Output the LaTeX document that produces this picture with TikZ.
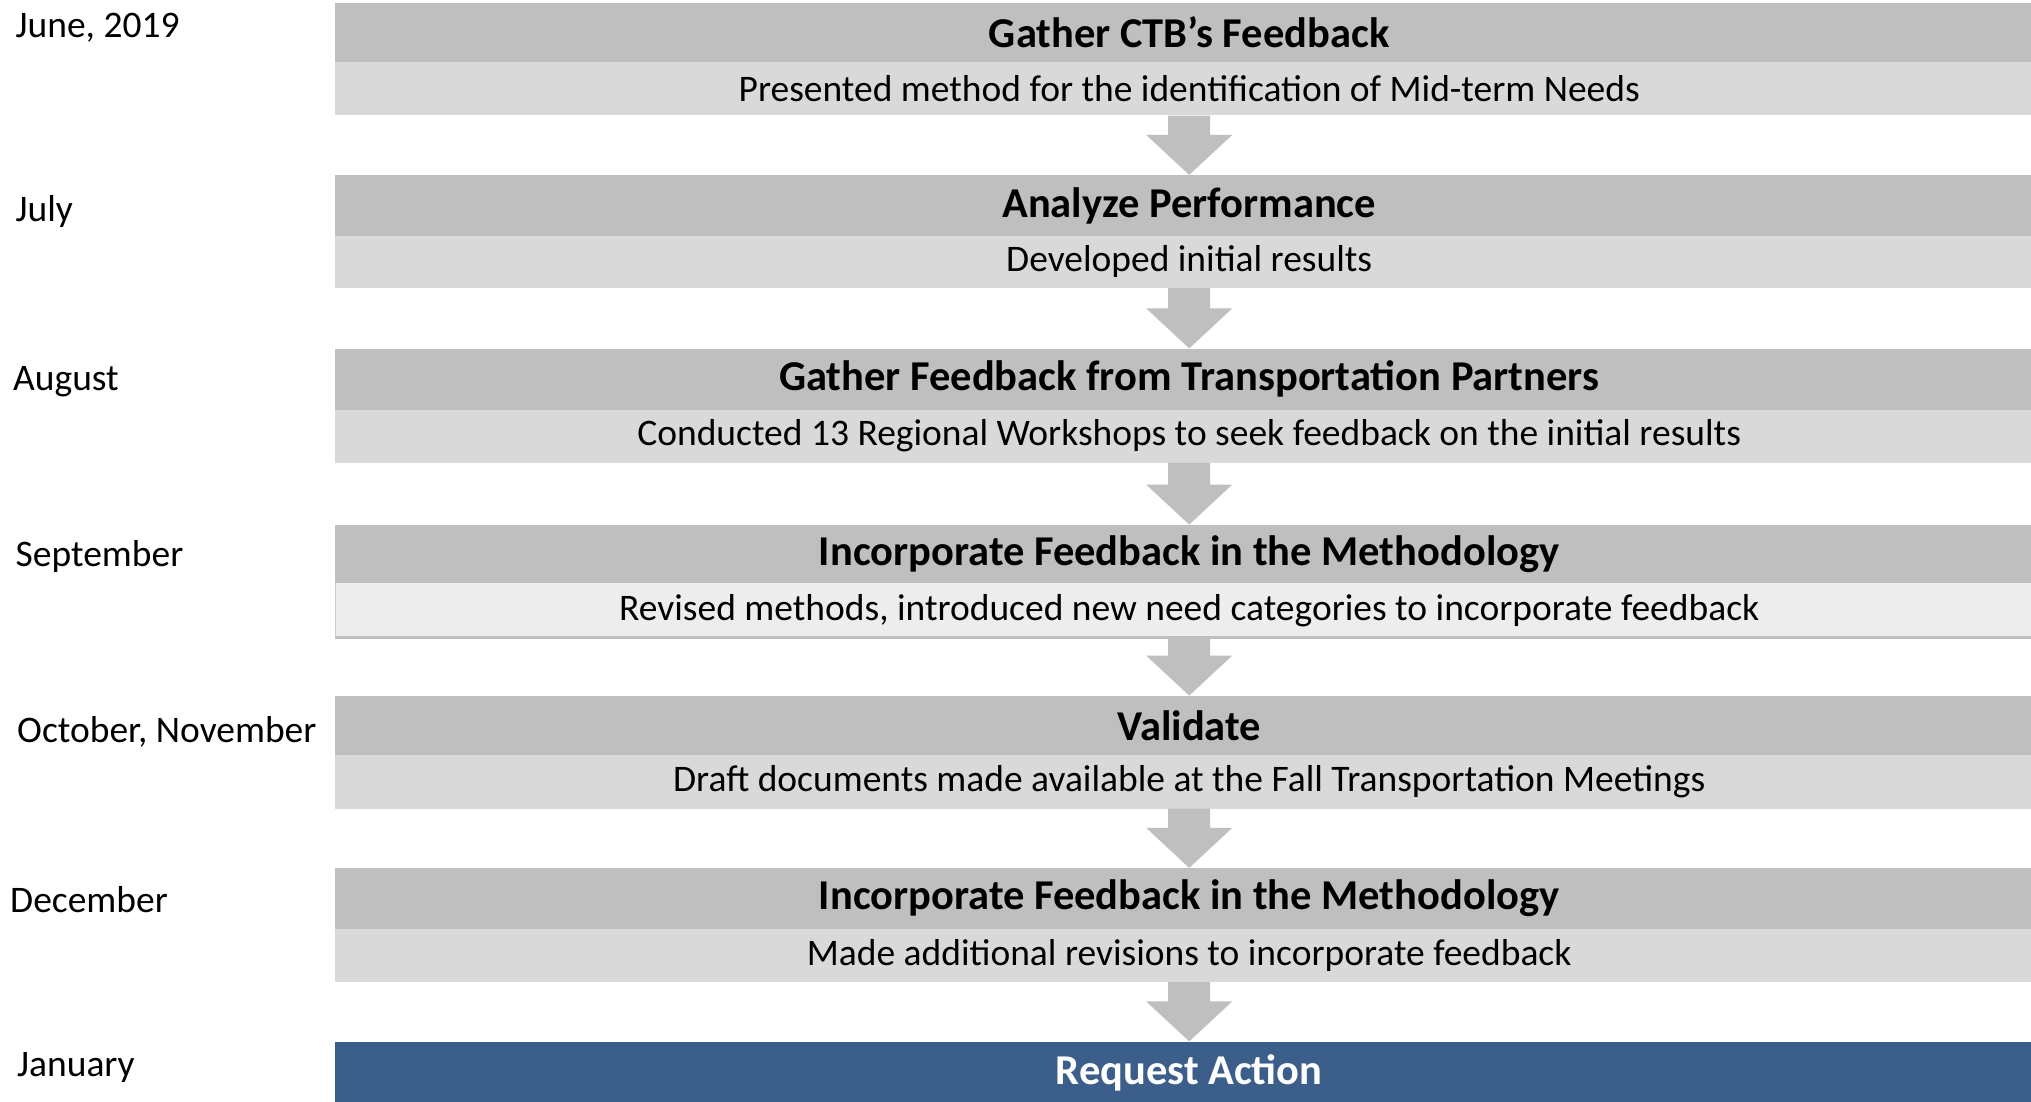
\documentclass[tikz,border=0pt]{standalone}
\usepackage{fontspec}
\setmainfont{Carlito}
\usetikzlibrary{calc,positioning}
\definecolor{hdrgray}{HTML}{BFBFBF}
\definecolor{subgray}{HTML}{D9D9D9}
\definecolor{sublight}{HTML}{EDEDED}
\definecolor{arrgray}{HTML}{BFBFBF}
\definecolor{actblue}{HTML}{3B5E8A}
\tikzset{
  hdr/.style={rectangle, fill=hdrgray, minimum width=1708pt, minimum height=59.6pt, inner sep=0pt,
     font=\fontsize{42.5}{50}\selectfont\bfseries, text=black, anchor=north west},
  sub/.style={rectangle, fill=subgray, minimum width=1708pt, minimum height=53pt, inner sep=0pt,
     font=\fontsize{37.5}{44}\selectfont, text=black, anchor=north west},
  act/.style={hdr, fill=actblue, text=white, minimum height=62pt},
  month/.style={anchor=west, inner sep=0pt, font=\fontsize{37.5}{44}\selectfont, text=black},
}
\newcommand\flowarrow[2]{%
  \fill[arrgray] let \p1=(#1.south), \p2=(#2.north) in
    (\x1-21pt,\y1) -- (\x1+21pt,\y1) -- (\x1+21pt,\y2+40pt) -- (\x1+43pt,\y2+40pt)
    -- (\x1,\y2) -- (\x1-43pt,\y2+40pt) -- (\x1-21pt,\y2+40pt) -- cycle;}
\begin{document}
\begin{tikzpicture}[x=1pt,y=-1pt]
\useasboundingbox (0,0) rectangle (2031,1102);
\clip (0,0) rectangle (2031,1102);
\fill[white] (0,0) rectangle (2031,1102);
% rows
\node[hdr] (h1) at (335,2.6) {Gather CTB’s Feedback};
\node[sub, minimum height=53.1pt] (s1) at (335,62.2) {Presented method for the identification of Mid-term Needs};
\node[hdr, minimum height=60.8pt] (h2) at (335,174.9) {Analyze Performance};
\node[sub, minimum height=51.9pt] (s2) at (335,235.7) {Developed initial results};
\node[hdr, minimum height=60.9pt] (h3) at (335,348.4) {Gather Feedback from Transportation Partners};
\node[sub, minimum height=53.1pt] (s3) at (335,409.3) {Conducted 13 Regional Workshops to seek feedback on the initial results};
\node[hdr, minimum height=58.3pt] (h4) at (335,524.6) {Incorporate Feedback in the Methodology};
\node[sub, fill=sublight, minimum height=54.4pt] (s4) at (335,582.9) {Revised methods, introduced new need categories to incorporate feedback};
\draw[hdrgray, line width=3pt] (s4.south west) -- (s4.south east);
\draw[hdrgray!80, line width=1pt] (s4.north west) -- (s4.south west);
\node[hdr, minimum height=59.6pt] (h5) at (335,695.6) {Validate};
\node[sub, minimum height=53.1pt] (s5) at (335,755.2) {Draft documents made available at the Fall Transportation Meetings};
\node[hdr, minimum height=60.8pt] (h6) at (335,867.9) {Incorporate Feedback in the Methodology};
\node[sub, minimum height=53.1pt] (s6) at (335,928.7) {Made additional revisions to incorporate feedback};
\node[act, minimum height=62pt] (h7) at (335,1041.4) {Request Action};
% arrows
\flowarrow{s1}{h2}
\flowarrow{s2}{h3}
\flowarrow{s3}{h4}
\flowarrow{s4}{h5}
\flowarrow{s5}{h6}
\flowarrow{s6}{h7}
% months
\node[month] (m1) at (15.5,28) {June, 2019};
\node[month] (m2) at (15.5,212) {July};
\node[month] (m3) at (13,382) {August};
\node[month] (m4) at (15.5,556) {September};
\node[month] (m5) at (17,732) {October, November};
\node[month] (m6) at (10,900) {December};
\node[month] (m7) at (17,1067) {January};
\end{tikzpicture}
\end{document}
